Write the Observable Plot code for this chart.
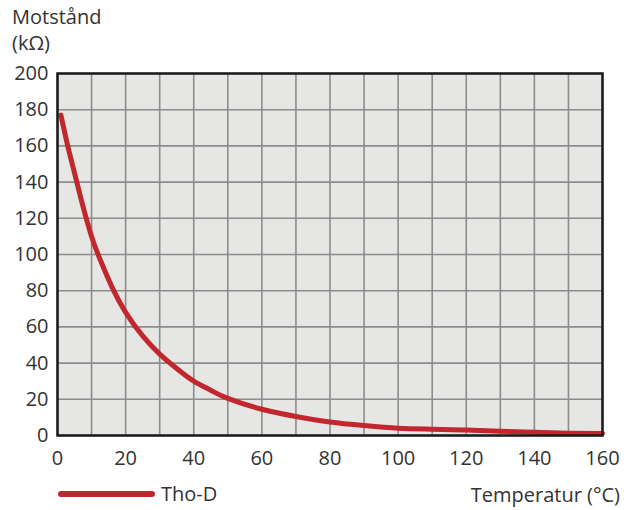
<!DOCTYPE html>
<html><head><meta charset="utf-8">
<script src="https://cdn.jsdelivr.net/npm/d3@7"></script>
<script src="https://cdn.jsdelivr.net/npm/@observablehq/plot@0.6"></script>
<style>
body{margin:0;background:#fff;font-family:"Open Sans",sans-serif;color:#333}
#wrap{position:relative;width:635px;height:510px}
.lbl{position:absolute;font-size:20px;line-height:26px;color:#333;white-space:nowrap}
</style></head><body>
<div id="wrap"></div>
<script>
const temps = [1, 3, 5, 7, 10, 13, 16, 20, 25, 30, 35, 40, 45, 50, 60, 70, 80, 90, 100, 110, 120, 130, 140, 150, 160];
const resist = [177, 160, 145, 130, 110, 95, 82, 68, 55, 45, 37, 30, 25, 20.5, 14.5, 10.5, 7.5, 5.5, 4, 3.5, 3, 2.4, 1.8, 1.3, 1.1];
const xTicks = [0, 20, 40, 60, 80, 100, 120, 140, 160];
const yTicks = [0, 20, 40, 60, 80, 100, 120, 140, 160, 180, 200];
const xGrid = d3.range(0, 161, 10);
const seriesName = "Tho-D";
const yTitle1 = "Motstånd";
const yTitle2 = "(kΩ)";
const xTitle = "Temperatur (°C)";
const data = temps.map((t, i) => ({t, r: resist[i]}));

const plot = Plot.plot({
  width: 635, height: 510,
  marginLeft: 57, marginRight: 33, marginTop: 73, marginBottom: 75,
  style: {fontFamily: "Open Sans, sans-serif", fontSize: "20px", color: "#333", background: "transparent"},
  x: {domain: [0, 160], label: null},
  y: {domain: [0, 200], label: null},
  marks: [
    Plot.frame({fill: "#e6e7e5", stroke: null}),
    Plot.ruleX(xGrid, {stroke: "#8c8c8c", strokeWidth: 1.6}),
    Plot.ruleY(yTicks, {stroke: "#8c8c8c", strokeWidth: 1.6}),
    Plot.line(data, {x: "t", y: "r", stroke: "#c1272d", strokeWidth: 5, curve: "natural"}),
    Plot.frame({stroke: "#1a1a1a", strokeWidth: 2.5}),
    Plot.axisX({ticks: xTicks, tickSize: 0, tickPadding: 15, fontSize: 20, label: null}),
    Plot.axisY({ticks: yTicks, tickSize: 0, tickPadding: 9, fontSize: 20, label: null})
  ]
});
const wrap = document.getElementById("wrap");
wrap.appendChild(plot);
function lbl(text, left, top, extra) {
  const d = document.createElement("div");
  d.className = "lbl"; d.textContent = text;
  d.style.left = left + "px"; d.style.top = top + "px";
  if (extra) Object.assign(d.style, extra);
  wrap.appendChild(d);
}
lbl(yTitle1, 12, 4);
lbl(yTitle2, 12, 30);
lbl(xTitle, 0, 482, {left: "auto", right: "15px"});
const leg = document.createElement("div");
Object.assign(leg.style, {position: "absolute", left: "58px", top: "491px", width: "97px", height: "6px", background: "#c1272d", borderRadius: "3px"});
wrap.appendChild(leg);
lbl(seriesName, 161, 481);
</script></body></html>
